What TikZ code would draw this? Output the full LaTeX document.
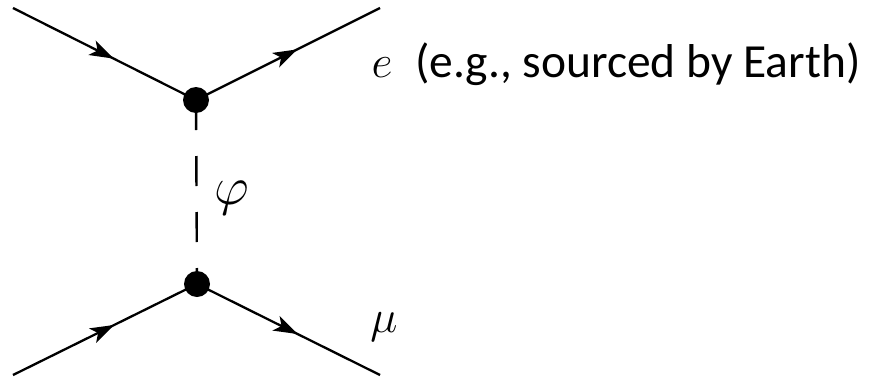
\documentclass[tikz,border=0pt]{standalone}
\usepackage{fix-cm}
\usepackage{fontspec}
\setmainfont{Carlito}
\usetikzlibrary{arrows.meta,decorations.markings}
\tikzset{
  fermion/.style={line width=2.3pt,
    postaction={decorate},
    decoration={markings,mark=at position 0.55 with {\arrow{Stealth[length=24pt,width=16pt,inset=6pt]}}}},
  scalar/.style={line width=2.4pt,dash pattern=on 30pt off 26pt},
  vertexdot/.style={circle,fill=black,minimum size=26pt,inner sep=0pt},
  lbl/.style={inner sep=0pt,font=\fontsize{46}{46}\selectfont}
}
\begin{document}
\begin{tikzpicture}[x=1pt,y=-1pt]
\useasboundingbox (0,0) rectangle (870,378);
\coordinate (tl) at (13,8);
\coordinate (tr) at (380,8);
\coordinate (bl) at (13,375);
\coordinate (br) at (380,375);
\coordinate (vtop) at (196,100);
\coordinate (vbot) at (197,284);
\draw[scalar] (vtop) -- (vbot);
\draw[fermion] (tl) -- (vtop);
\draw[fermion] (vtop) -- (tr);
\draw[fermion] (bl) -- (vbot);
\draw[fermion] (vbot) -- (br);
\node[vertexdot] (dtop) at (vtop) {};
\node[vertexdot] (dbot) at (vbot) {};
\node[lbl,anchor=base] (le) at (382,77) {$e$};
\node[inner sep=0pt,anchor=base west,font=\fontsize{47.5}{47.5}\selectfont] (ltext) at (415,77) {(e.g., sourced by Earth)};
\node[inner sep=0pt,anchor=base,font=\fontsize{54}{54}\selectfont] (lphi) at (232,204) {$\varphi$};
\node[lbl,anchor=base] (lmu) at (384,332) {$\mu$};
\end{tikzpicture}
\end{document}
